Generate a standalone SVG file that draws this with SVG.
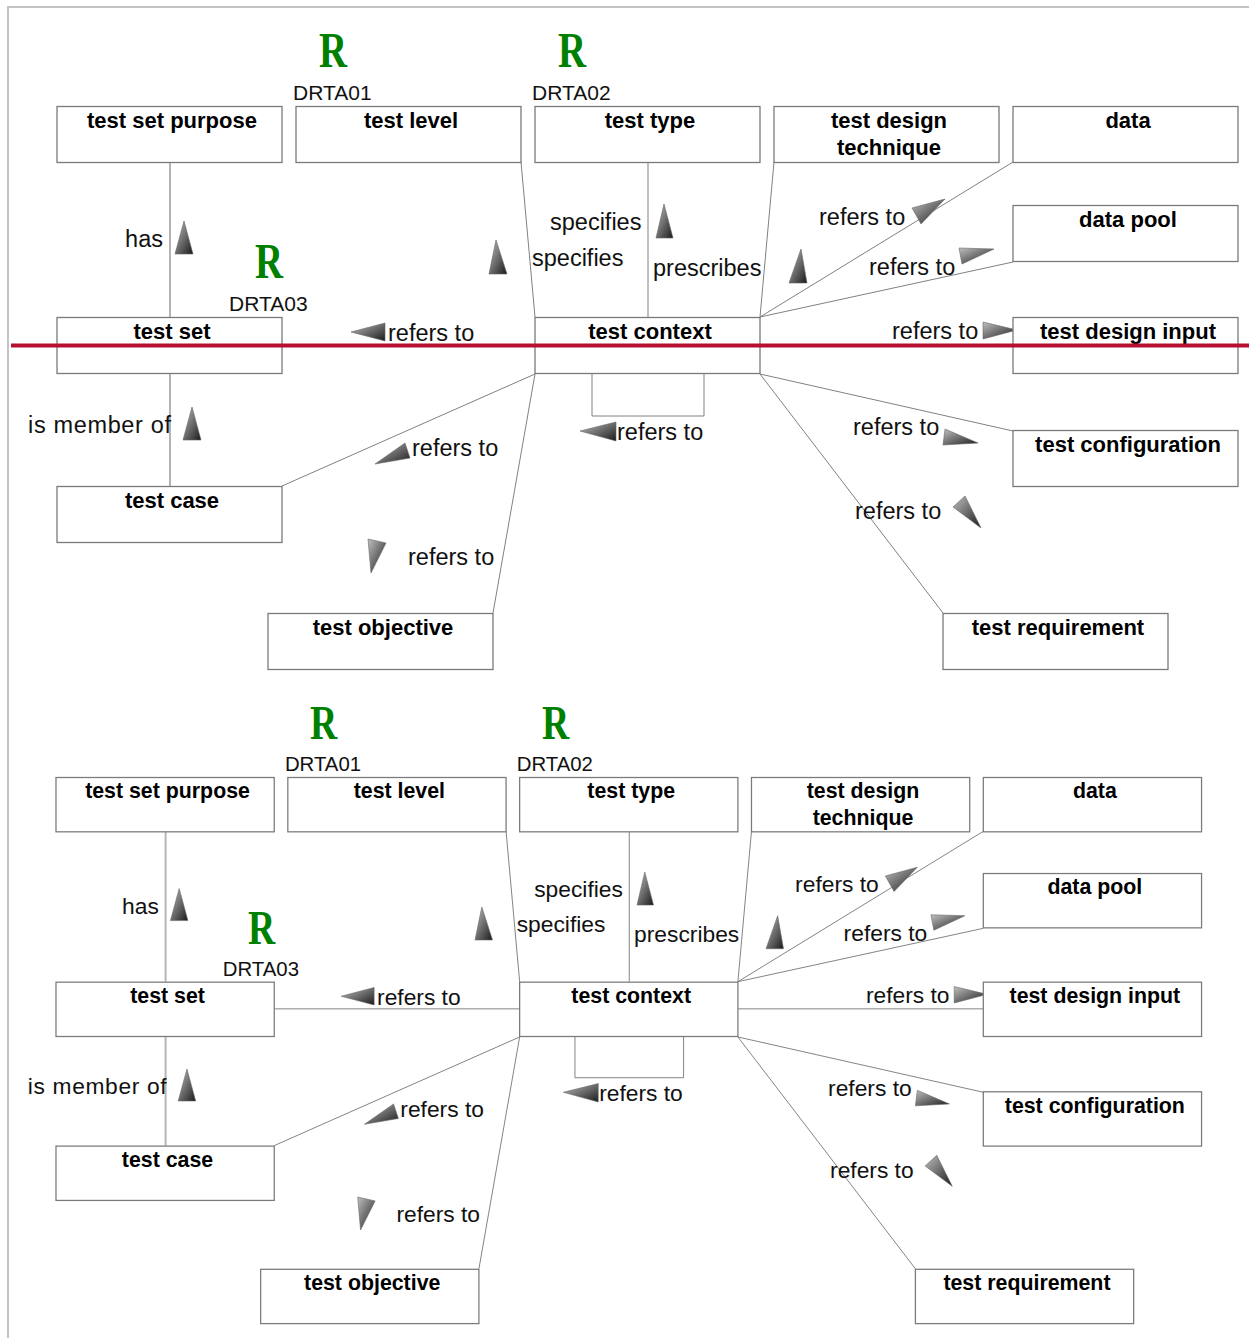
<svg xmlns="http://www.w3.org/2000/svg" width="1249" height="1338" viewBox="0 0 1249 1338">
<style>
.box{fill:#fff;stroke:#7a7a7a;stroke-width:1.3}
.nl{font-family:"Liberation Sans",Arial,sans-serif;font-weight:bold;font-size:22px;fill:#000;text-anchor:middle}
.el{font-family:"Liberation Sans",Arial,sans-serif;font-size:23.5px;fill:#111}
.conn{stroke:#808080;stroke-width:1;fill:none}
.conn2{stroke:#b4b4b4;stroke-width:2;fill:none}
.arr{fill:url(#g);stroke:#666;stroke-width:0.6}
.rr{font-family:"Liberation Serif","Times New Roman",serif;font-weight:bold;font-size:50px;fill:#008000}
.dr{font-family:"Liberation Sans",Arial,sans-serif;font-size:21px;fill:#111}
.frame{stroke:#c4c4c4;stroke-width:2;fill:none}
</style>
<defs>
<linearGradient id="g" x1="0" y1="0" x2="1" y2="1">
<stop offset="0" stop-color="#c0c0c0"/>
<stop offset="1" stop-color="#1a1a1a"/>
</linearGradient>
</defs>
<rect width="1249" height="1338" fill="#fff"/>
<polyline class="frame" points="8,1338 8,7 1249,7"/>

<!-- TOP DIAGRAM -->
<g id="top">
<g id="connectors">
<line class="conn2" x1="170" y1="162" x2="170" y2="317"/>
<line class="conn2" x1="170" y1="373" x2="170" y2="486"/>
<line class="conn" x1="521" y1="162" x2="535" y2="317"/>
<line class="conn" x1="648" y1="162" x2="648" y2="317"/>
<line class="conn" x1="774" y1="162" x2="760" y2="317"/>
<line class="conn" x1="1013" y1="162" x2="760" y2="317"/>
<line class="conn" x1="1013" y1="262" x2="760" y2="317"/>
<line class="conn" x1="760" y1="345" x2="1013" y2="345"/>
<line class="conn" x1="282" y1="345" x2="535" y2="345"/>
<line class="conn" x1="282" y1="486" x2="535" y2="374"/>
<line class="conn" x1="493" y1="613" x2="535" y2="374"/>
<line class="conn" x1="760" y1="374" x2="1013" y2="431"/>
<line class="conn" x1="760" y1="374" x2="943" y2="613"/>
<polyline class="conn" points="592,374 592,416 704,416 704,374"/>
<polygon class="arr" points="184,221 193,254 175,254"/>
<polygon class="arr" points="192,407 201,440 183,440"/>
<polygon class="arr" points="496,240 507,274 489,274"/>
<polygon class="arr" points="664,204 673,238 656,238"/>
<polygon class="arr" points="801,249 807,283 789,283"/>
<polygon class="arr" points="945,199 912,208 921,224"/>
<polygon class="arr" points="994,249 959,248 962,264"/>
<polygon class="arr" points="1017,330 983,322 983,339"/>
<polygon class="arr" points="351,332 385,323 385,341"/>
<polygon class="arr" points="580,431 616,422 616,441"/>
<polygon class="arr" points="375,464 405,443 410,458"/>
<polygon class="arr" points="368,539 386,543 371,573"/>
<polygon class="arr" points="978,443 945,429 943,445"/>
<polygon class="arr" points="981,528 953,507 965,496"/>
<text class="el" x="163" y="247" text-anchor="end">has</text>
<text class="el" x="28" y="433" textLength="143" lengthAdjust="spacing">is member of</text>
<text class="el" x="550" y="230">specifies</text>
<text class="el" x="532" y="266">specifies</text>
<text class="el" x="653" y="276">prescribes</text>
<text class="el" x="819" y="225">refers to</text>
<text class="el" x="869" y="275">refers to</text>
<text class="el" x="892" y="339">refers to</text>
<text class="el" x="388" y="341">refers to</text>
<text class="el" x="617" y="440">refers to</text>
<text class="el" x="412" y="456">refers to</text>
<text class="el" x="408" y="565">refers to</text>
<text class="el" x="853" y="435">refers to</text>
<text class="el" x="855" y="519">refers to</text>
</g>
<g id="test-set-purpose"><rect class="box" x="57" y="106.5" width="225" height="56"/><text class="nl" x="172" y="128">test set purpose</text></g>
<g id="test-level"><rect class="box" x="296" y="106.5" width="225" height="56"/><text class="nl" x="411" y="128">test level</text></g>
<g id="test-type"><rect class="box" x="535" y="106.5" width="225" height="56"/><text class="nl" x="650" y="128">test type</text></g>
<g id="test-design-technique"><rect class="box" x="774" y="106.5" width="225" height="56"/><text class="nl" x="889" y="128">test design</text><text class="nl" x="889" y="155">technique</text></g>
<g id="data"><rect class="box" x="1013" y="106.5" width="225" height="56"/><text class="nl" x="1128" y="128">data</text></g>
<g id="data-pool"><rect class="box" x="1013" y="205.5" width="225" height="56"/><text class="nl" x="1128" y="227">data pool</text></g>
<g id="test-design-input"><rect class="box" x="1013" y="317.5" width="225" height="56"/><text class="nl" x="1128" y="339">test design input</text></g>
<g id="test-set"><rect class="box" x="57" y="317.5" width="225" height="56"/><text class="nl" x="172" y="339">test set</text></g>
<g id="test-context"><rect class="box" x="535" y="317.5" width="225" height="56"/><text class="nl" x="650" y="339">test context</text></g>
<g id="test-case"><rect class="box" x="57" y="486.5" width="225" height="56"/><text class="nl" x="172" y="508">test case</text></g>
<g id="test-objective"><rect class="box" x="268" y="613.5" width="225" height="56"/><text class="nl" x="383" y="635">test objective</text></g>
<g id="test-configuration"><rect class="box" x="1013" y="430.5" width="225" height="56"/><text class="nl" x="1128" y="452">test configuration</text></g>
<g id="test-requirement"><rect class="box" x="943" y="613.5" width="225" height="56"/><text class="nl" x="1058" y="635">test requirement</text></g>
<g id="rule-drta01"><text class="rr" x="319" y="67" textLength="28" lengthAdjust="spacingAndGlyphs">R</text><text class="dr" x="293" y="100">DRTA01</text></g>
<g id="rule-drta02"><text class="rr" x="558" y="67" textLength="28" lengthAdjust="spacingAndGlyphs">R</text><text class="dr" x="532" y="100">DRTA02</text></g>
<g id="rule-drta03"><text class="rr" x="255" y="278" textLength="28" lengthAdjust="spacingAndGlyphs">R</text><text class="dr" x="229" y="311">DRTA03</text></g>
</g>
<line id="red-line" x1="11" y1="345.5" x2="1249" y2="345.5" stroke="#b5102f" stroke-width="4"/>

<!-- BOTTOM DIAGRAM -->
<g id="bottom" transform="translate(0.7,674.2) scale(0.97)">
<g id="b-connectors">
<line class="conn2" x1="170" y1="162" x2="170" y2="317"/>
<line class="conn2" x1="170" y1="373" x2="170" y2="486"/>
<line class="conn" x1="521" y1="162" x2="535" y2="317"/>
<line class="conn" x1="648" y1="162" x2="648" y2="317"/>
<line class="conn" x1="774" y1="162" x2="760" y2="317"/>
<line class="conn" x1="1013" y1="162" x2="760" y2="317"/>
<line class="conn" x1="1013" y1="262" x2="760" y2="317"/>
<line class="conn" x1="760" y1="345" x2="1013" y2="345"/>
<line class="conn" x1="282" y1="345" x2="535" y2="345"/>
<line class="conn" x1="282" y1="486" x2="535" y2="374"/>
<line class="conn" x1="493" y1="613" x2="535" y2="374"/>
<line class="conn" x1="760" y1="374" x2="1013" y2="431"/>
<line class="conn" x1="760" y1="374" x2="943" y2="613"/>
<polyline class="conn" points="592,374 592,416 704,416 704,374"/>
<polygon class="arr" points="184,221 193,254 175,254"/>
<polygon class="arr" points="192,407 201,440 183,440"/>
<polygon class="arr" points="496,240 507,274 489,274"/>
<polygon class="arr" points="664,204 673,238 656,238"/>
<polygon class="arr" points="801,249 807,283 789,283"/>
<polygon class="arr" points="945,199 912,208 921,224"/>
<polygon class="arr" points="994,249 959,248 962,264"/>
<polygon class="arr" points="1017,330 983,322 983,339"/>
<polygon class="arr" points="351,332 385,323 385,341"/>
<polygon class="arr" points="580,431 616,422 616,441"/>
<polygon class="arr" points="375,464 405,443 410,458"/>
<polygon class="arr" points="368,539 386,543 371,573"/>
<polygon class="arr" points="978,443 945,429 943,445"/>
<polygon class="arr" points="981,528 953,507 965,496"/>
<text class="el" x="163" y="247" text-anchor="end">has</text>
<text class="el" x="28" y="433" textLength="143" lengthAdjust="spacing">is member of</text>
<text class="el" x="550" y="230">specifies</text>
<text class="el" x="532" y="266">specifies</text>
<text class="el" x="653" y="276">prescribes</text>
<text class="el" x="819" y="225">refers to</text>
<text class="el" x="869" y="275">refers to</text>
<text class="el" x="892" y="339">refers to</text>
<text class="el" x="388" y="341">refers to</text>
<text class="el" x="617" y="440">refers to</text>
<text class="el" x="412" y="456">refers to</text>
<text class="el" x="408" y="565">refers to</text>
<text class="el" x="853" y="435">refers to</text>
<text class="el" x="855" y="519">refers to</text>
</g>
<g id="b-test-set-purpose"><rect class="box" x="57" y="106.5" width="225" height="56"/><text class="nl" x="172" y="128">test set purpose</text></g>
<g id="b-test-level"><rect class="box" x="296" y="106.5" width="225" height="56"/><text class="nl" x="411" y="128">test level</text></g>
<g id="b-test-type"><rect class="box" x="535" y="106.5" width="225" height="56"/><text class="nl" x="650" y="128">test type</text></g>
<g id="b-test-design-technique"><rect class="box" x="774" y="106.5" width="225" height="56"/><text class="nl" x="889" y="128">test design</text><text class="nl" x="889" y="155">technique</text></g>
<g id="b-data"><rect class="box" x="1013" y="106.5" width="225" height="56"/><text class="nl" x="1128" y="128">data</text></g>
<g id="b-data-pool"><rect class="box" x="1013" y="205.5" width="225" height="56"/><text class="nl" x="1128" y="227">data pool</text></g>
<g id="b-test-design-input"><rect class="box" x="1013" y="317.5" width="225" height="56"/><text class="nl" x="1128" y="339">test design input</text></g>
<g id="b-test-set"><rect class="box" x="57" y="317.5" width="225" height="56"/><text class="nl" x="172" y="339">test set</text></g>
<g id="b-test-context"><rect class="box" x="535" y="317.5" width="225" height="56"/><text class="nl" x="650" y="339">test context</text></g>
<g id="b-test-case"><rect class="box" x="57" y="486.5" width="225" height="56"/><text class="nl" x="172" y="508">test case</text></g>
<g id="b-test-objective"><rect class="box" x="268" y="613.5" width="225" height="56"/><text class="nl" x="383" y="635">test objective</text></g>
<g id="b-test-configuration"><rect class="box" x="1013" y="430.5" width="225" height="56"/><text class="nl" x="1128" y="452">test configuration</text></g>
<g id="b-test-requirement"><rect class="box" x="943" y="613.5" width="225" height="56"/><text class="nl" x="1058" y="635">test requirement</text></g>
<g id="b-rule-drta01"><text class="rr" x="319" y="67" textLength="28" lengthAdjust="spacingAndGlyphs">R</text><text class="dr" x="293" y="100">DRTA01</text></g>
<g id="b-rule-drta02"><text class="rr" x="558" y="67" textLength="28" lengthAdjust="spacingAndGlyphs">R</text><text class="dr" x="532" y="100">DRTA02</text></g>
<g id="b-rule-drta03"><text class="rr" x="255" y="278" textLength="28" lengthAdjust="spacingAndGlyphs">R</text><text class="dr" x="229" y="311">DRTA03</text></g>
</g>
</svg>
